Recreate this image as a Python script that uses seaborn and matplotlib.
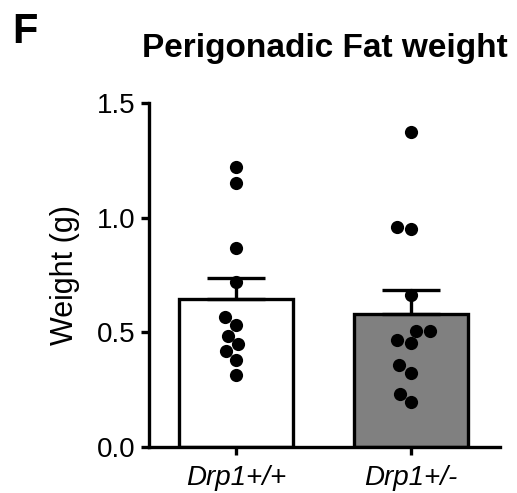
import numpy as np
import pandas as pd
import matplotlib
matplotlib.use("Agg")
import matplotlib.pyplot as plt
import seaborn as sns

# Perigonadic fat weight (g) per mouse
genotypes = ["Drp1+/+", "Drp1+/-"]
wt_weight = [1.150, 1.220, 0.868, 0.718, 0.566, 0.530, 0.485, 0.447, 0.418, 0.379, 0.312]
het_weight = [1.376, 0.949, 0.961, 0.662, 0.451, 0.466, 0.504, 0.504, 0.355, 0.323, 0.230, 0.194]
bar_colors = ["#ffffff", "#808080"]
y_ticks = [0.0, 0.5, 1.0, 1.5]

df = pd.DataFrame({
    "genotype": [genotypes[0]] * len(wt_weight) + [genotypes[1]] * len(het_weight),
    "weight": wt_weight + het_weight,
})

sns.set_theme(style="ticks")
plt.rcParams["font.family"] = ["Liberation Sans", "DejaVu Sans"]
plt.rcParams["text.color"] = "black"
plt.rcParams["axes.labelcolor"] = "black"

fig = plt.figure(figsize=(5.17, 4.93), dpi=100)
ax = fig.add_axes([0.288, 0.094, 0.679, 0.6965])

sns.barplot(data=df, x="genotype", y="weight", order=genotypes,
            hue="genotype", palette=bar_colors, legend=False,
            errorbar=None, width=0.65, edgecolor="black", linewidth=2.4,
            ax=ax, zorder=2)

# mean + SEM, upper whisker only
stats = df.groupby("genotype", sort=False)["weight"].agg(["mean", "sem"]).reindex(genotypes)
ax.errorbar(np.arange(len(genotypes)), stats["mean"],
            yerr=[np.zeros(len(genotypes)), stats["sem"]],
            fmt="none", ecolor="black", elinewidth=2.4, capsize=21,
            capthick=2.4, zorder=3)

sns.swarmplot(data=df, x="genotype", y="weight", order=genotypes,
              color="black", size=9.5, ax=ax, zorder=4)

ax.set_xlim(-0.5, 1.51)
ax.set_ylim(0, 1.5)
ax.set_yticks(y_ticks)
ax.set_yticklabels([f"{v:.1f}" for v in y_ticks])
ax.set_xlabel("")
ax.set_ylabel("Weight (g)", fontsize=22, labelpad=12)
ax.set_xticks(range(len(genotypes)))
ax.set_xticklabels(genotypes, fontstyle="italic")
ax.tick_params(axis="both", labelsize=20, width=2.4, length=6, color="black",
               labelcolor="black")
ax.tick_params(axis="x", pad=7)
ax.tick_params(axis="y", pad=4)
for side in ["top", "right"]:
    ax.spines[side].set_visible(False)
for side in ["left", "bottom"]:
    ax.spines[side].set_linewidth(2.4)
    ax.spines[side].set_color("black")

ax.set_title("Perigonadic Fat weight", fontsize=24, fontweight="bold", pad=33)
fig.text(0.024, 0.913, "F", fontsize=30, fontweight="bold", ha="left", va="baseline")

fig.savefig("out.png", dpi=100, facecolor="white")
